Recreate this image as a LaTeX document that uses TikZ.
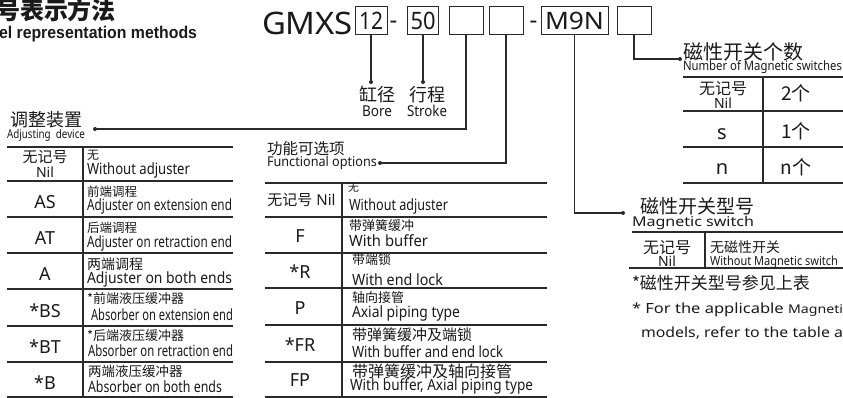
\documentclass[tikz,border=0pt]{standalone}
\usepackage{fontspec}
\usepackage{graphicx}
\setmainfont{Noto Sans}
\newfontfamily\cjk{Noto Sans CJK SC}
\newfontfamily\arl{Liberation Sans}
\newcommand\fsz[1]{\fontsize{#1}{#1}\selectfont}
\newcommand\fitw[2]{\resizebox{#1pt}{\height}{#2}}
\definecolor{ink}{HTML}{1A1A1A}
\definecolor{rule}{HTML}{2A2A2A}
\tikzset{
  txt/.style={inner sep=0pt, outer sep=0pt, text=ink},
  cn/.style={txt, font=\cjk\fsz{#1}},
  en/.style={txt, font=\fsz{#1}},
  wire/.style={draw=rule, line width=1.2pt},
  rul/.style={draw=rule, line width=1.3pt},
  pin/.style={circle, fill=rule, inner sep=0pt, minimum size=4pt},
  cbox/.style={draw=rule, line width=1pt, minimum height=28pt, inner sep=0pt, text=ink, font=\fsz{24}},
}
\begin{document}
\begin{tikzpicture}[x=1pt,y=-1pt]
\useasboundingbox (0,0) rectangle (843,398);
\fill[white] (0,0) rectangle (843,398);

% ---------- title ----------
\node[txt, anchor=west, font=\cjk\bfseries\fsz{24}] (title) at (-4,10) {号表示方法};
\node[txt, anchor=base west, font=\arl\bfseries\fsz{17}] (subtitle) at (-1,39) {\fitw{198}{el representation methods}};

% ---------- model code ----------
\node[en=31, anchor=base west] (gmxs) at (262,35) {\fitw{91}{GMXS}};
\node[cbox, minimum width=32pt] (b1) at (371,21) {\fitw{24}{12}};
\node[en=24, anchor=base] (dash1) at (393.5,29) {-};
\node[cbox, minimum width=31pt] (b2) at (423,21) {\fitw{25}{50}};
\node[cbox, minimum width=34pt] (b3) at (466,21) {};
\node[cbox, minimum width=34pt] (b4) at (506,21) {};
\node[en=24, anchor=base] (dash2) at (533.5,29) {-};
\node[cbox, minimum width=67pt] (b5) at (574.5,21) {\fitw{59}{M9N}};
\node[cbox, minimum width=34pt] (b6) at (634,21) {};

% ---------- pins & wires ----------
\node[pin] (pBore) at (371,82) {};
\node[pin] (pStroke) at (423,82) {};
\node[pin] (pAdj) at (95,129) {};
\node[pin] (pFun) at (380,163) {};
\node[pin] (pMag) at (623,213) {};
\node[pin] (pNum) at (680,59) {};
\draw[wire] (b1.south) -- (pBore.center);
\draw[wire] (b2.south) -- (pStroke.center);
\draw[wire] (b3.south) |- (pAdj.center);
\draw[wire] (b4.south) |- (pFun.center);
\draw[wire] (b5.south) |- (pMag.center);
\draw[wire] (b6.south) |- (pNum.center);

% ---------- bore / stroke ----------
\node[cn=18] (boreC) at (377,95) {缸径};
\node[en=15, anchor=base] (boreE) at (377,117) {\fitw{30}{Bore}};
\node[cn=18] (strokeC) at (427,95) {行程};
\node[en=15, anchor=base] (strokeE) at (427,117) {\fitw{40}{Stroke}};

% ---------- adjusting device ----------
\node[cn=18, anchor=west] (adjC) at (10,119.5) {调整装置};
\node[en=12, anchor=base west] (adjE) at (7,139) {\fitw{78}{Adjusting\ \ device}};
\foreach \yy in {147,181,217,253,289,326,362,397} \draw[rul] (7,\yy) -- (233,\yy);
\draw[rul] (83,147) -- (83,397);

\node[cn=15] (a1c) at (45,157) {无记号};
\node[en=14, anchor=base] (a1n) at (45,178) {Nil};
\node[en=18] (a2c) at (45,202) {AS};
\node[en=18] (a3c) at (45,238) {AT};
\node[en=18] (a4c) at (45,274) {A};
\node[en=18] (a5c) at (45,310.5) {*BS};
\node[en=18] (a6c) at (45,347) {*BT};
\node[en=18] (a7c) at (45,382.5) {*B};

\node[cn=12, anchor=west] (a1z) at (87,155) {无};
\node[en=15.5, anchor=base west] (a1e) at (87,175) {\fitw{103}{Without adjuster}};
\node[cn=12.5, anchor=west] (a2z) at (87,192) {前端调程};
\node[en=15.5, anchor=base west] (a2e) at (87,211) {\fitw{145}{Adjuster on extension end}};
\node[cn=12.5, anchor=west] (a3z) at (87,228) {后端调程};
\node[en=15.5, anchor=base west] (a3e) at (87,247) {\fitw{145}{Adjuster on retraction end}};
\node[cn=14, anchor=west] (a4z) at (87,264) {两端调程};
\node[en=15.5, anchor=base west] (a4e) at (87,283) {\fitw{145}{Adjuster on both ends}};
\node[cn=13, anchor=west] (a5z) at (87,299) {*前端液压缓冲器};
\node[en=15.5, anchor=base west] (a5e) at (91,320) {\fitw{142}{Absorber on extension end}};
\node[cn=13, anchor=west] (a6z) at (87,336) {*后端液压缓冲器};
\node[en=15.5, anchor=base west] (a6e) at (88,356) {\fitw{145}{Absorber on retraction end}};
\node[cn=13.5, anchor=west] (a7z) at (88,371) {两端液压缓冲器};
\node[en=15.5, anchor=base west] (a7e) at (88,392) {\fitw{134}{Absorber on both ends}};

% ---------- functional options ----------
\node[cn=15.5, anchor=west] (funC) at (267,148.5) {功能可选项};
\node[en=13.5, anchor=base west] (funE) at (267,167) {\fitw{110}{Functional options}};
\foreach \yy in {183,217,253,288,325,362,397} \draw[rul] (265,\yy) -- (547,\yy);
\draw[rul] (342,183) -- (342,397);

\node[txt, font=\fsz{15}] (f1c) at (301.5,200) {{\cjk 无记号} Nil};
\node[en=18] (f2c) at (300,236.5) {F};
\node[en=18] (f3c) at (300,271.5) {*R};
\node[en=18] (f4c) at (300,308) {P};
\node[en=18] (f5c) at (300,345) {*FR};
\node[en=18] (f6c) at (300,380.5) {FP};

\node[cn=11, anchor=west] (f1z) at (348,188) {无};
\node[en=15.5, anchor=base west] (f1e) at (349,210) {\fitw{99}{Without adjuster}};
\node[cn=13, anchor=west] (f2z) at (349,226) {带弹簧缓冲};
\node[en=15.5, anchor=base west] (f2e) at (349,247) {\fitw{79}{With buffer}};
\node[cn=13, anchor=west] (f3z) at (352,260) {带端锁};
\node[en=15.5, anchor=base west] (f3e) at (352,285) {\fitw{91}{With end lock}};
\node[cn=13, anchor=west] (f4z) at (352,298) {轴向接管};
\node[en=15.5, anchor=base west] (f4e) at (352,317) {\fitw{108}{Axial piping type}};
\node[cn=15, anchor=west] (f5z) at (352,335) {带弹簧缓冲及端锁};
\node[en=15.5, anchor=base west] (f5e) at (352,357) {\fitw{151}{With buffer and end lock}};
\node[cn=16, anchor=west] (f6z) at (352,371) {带弹簧缓冲及轴向接管};
\node[en=15.5, anchor=base west] (f6e) at (350,390) {\fitw{183}{With buffer, Axial piping type}};

% ---------- number of magnetic switches ----------
\node[cn=20, anchor=west] (numC) at (683,52) {磁性开关个数};
\node[en=13, anchor=base west] (numE) at (683,71) {\fitw{159}{Number of Magnetic switches}};
\foreach \yy in {77,111,147,183} \draw[rul] (683,\yy) -- (843,\yy);
\draw[rul] (763,77) -- (763,183);
\node[cn=16] (n1c) at (723,89) {无记号};
\node[en=14, anchor=base] (n1n) at (723,109) {Nil};
\node[cn=19] (n1v) at (796,93) {2个};
\node[en=20, anchor=base] (n2c) at (722,140) {s};
\node[cn=19] (n2v) at (796,131) {1个};
\node[en=20, anchor=base] (n3c) at (722,175) {n};
\node[cn=19] (n3v) at (796,167) {n个};

% ---------- magnetic switch ----------
\node[cn=19, anchor=west] (magC) at (640,206.5) {磁性开关型号};
\node[en=13.5, anchor=base west] (magE) at (632,227) {\fitw{122}{Magnetic switch}};
\draw[rul] (632,232) -- (843,232);
\draw[rul] (629,268) -- (843,268);
\draw[rul] (705,232) -- (705,268);
\node[cn=16] (m1c) at (667,248) {无记号};
\node[en=14, anchor=base] (m1n) at (667,266) {Nil};
\node[cn=14, anchor=west] (m1z) at (710,247) {无磁性开关};
\node[en=12.5, anchor=base west] (m1e) at (710,265) {\fitw{128}{Without Magnetic switch}};
\node[cn=17, anchor=west] (note1) at (632,283) {*磁性开关型号参见上表};
\node[en=14, anchor=base west] (note2) at (632,313) {\fitw{211}{* For the applicable {\fsz{12}Magneti}}};
\node[en=14, anchor=base west] (note3) at (641,337) {\fitw{202}{models, refer to the table a}};
\end{tikzpicture}
\end{document}
